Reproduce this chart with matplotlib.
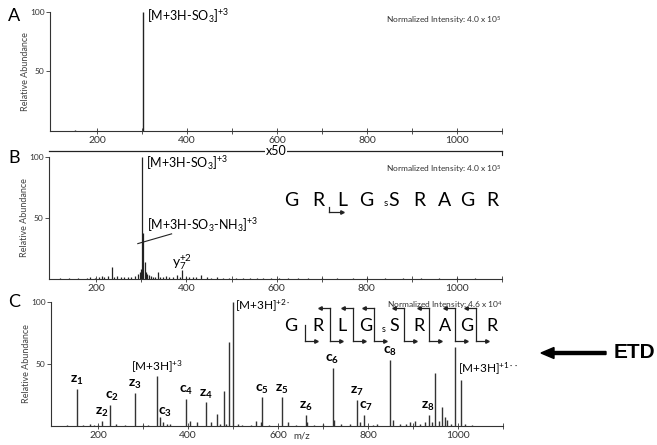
import matplotlib
matplotlib.use('Agg')
import matplotlib.pyplot as plt
from matplotlib.patches import FancyArrow

plt.rcParams['font.family'] = ['Lato', 'DejaVu Sans']
plt.rcParams['mathtext.fontset'] = 'custom'
plt.rcParams['mathtext.rm'] = 'Lato'
plt.rcParams['mathtext.it'] = 'Lato:italic'
plt.rcParams['mathtext.bf'] = 'Lato:bold'

W, H = 657, 445
INK = '#222222'

# A: precursor spectrum
a_mz = [150, 302]
a_int = [0.8, 100]

# B: CID spectrum
b_mz = [120, 140, 160, 180, 186, 196, 205, 212, 218, 226, 234, 240, 246, 255, 262,
        270, 278, 285, 292, 296, 299, 302, 304, 307, 310, 313, 317, 321, 326, 331,
        336, 342, 348, 355, 362, 370, 378, 386, 391, 398, 405, 414, 422, 433, 445,
        455, 468, 480, 495, 510, 525, 540, 556, 570, 588, 605, 625, 648, 670, 700,
        735, 770, 800, 840, 880, 920, 960, 1000, 1040]
b_int = [0.8, 1, 0.8, 1.2, 1.5, 1, 1.5, 2.5, 2, 2.5, 10, 2, 2.5, 1.5, 2,
         1.5, 2, 2.5, 4, 6, 8, 100, 38, 14, 6, 4, 3, 2.5, 2, 1.5,
         6, 2, 1.5, 2.5, 1.5, 2, 3, 1.5, 7, 2, 1.5, 1.5, 1.5, 3.5, 1.5,
         1.2, 1.5, 1, 1.2, 1, 1.2, 1, 1, 1.2, 1, 1, 1, 0.8, 0.8, 1,
         0.8, 0.8, 0.8, 0.8, 0.8, 0.8, 0.8, 0.8, 0.8]

# C: ETD spectrum, assigned fragments
frag_names = ['z1', 'z2', 'c2', 'z3', 'c3', 'c4', 'z4', 'c5', 'z5', 'z6',
              'c6', 'z7', 'c7', 'c8', 'z8']
frag_mz = [153, 209, 226, 282, 338, 395, 439, 565, 608, 662, 721, 775, 791, 849, 935]
frag_int = [30, 4, 17, 27, 7, 22, 19, 23, 23, 9, 47, 21, 9, 53, 9]

# C: precursor and charge-reduced species
prec_names = ['+3', '+2\\bullet', '+1\\bullet\\bullet']
prec_mz = [331, 500, 993]
prec_int = [40, 100, 64]

# C: unassigned peaks
c_mz = [130, 166, 181, 190, 200, 240, 260, 300, 310, 345, 352, 360, 405, 420, 450,
        463, 470, 480, 485, 491, 510, 520, 540, 551, 563, 580, 622, 640, 664, 680,
        700, 724, 740, 760, 781, 810, 820, 855, 870, 885, 894, 905, 916, 927, 942,
        949, 957, 964, 971, 976, 985, 1006, 1015, 1030]
c_int = [0.8, 1, 1.5, 1, 0.8, 1.5, 1, 1, 1.2, 3, 1.5, 1.5, 4, 3, 3,
         10, 2, 28, 2, 68, 2, 1, 1.2, 4, 3, 1, 3, 1, 3, 1,
         1.5, 5, 1.5, 1.5, 3, 1, 1.5, 5, 1.5, 2, 3, 4, 2, 3, 3,
         43, 4, 15, 7, 5, 2, 37, 2, 1]

peptide = ['G', 'R', 'L', 'G', 'S', 'R', 'A', 'G', 'R']
letter_x = [291, 318, 342, 366, 394, 419, 445, 467, 492]

fig = plt.figure(figsize=(W / 100, H / 100), dpi=100)


def spectrum_axes(left, top, right, bottom):
    ax = fig.add_axes([left / W, 1 - bottom / H, (right - left) / W, (bottom - top) / H])
    ax.set_xlim(95, 1100)
    ax.set_ylim(0, 100)
    for s in ('top', 'right'):
        ax.spines[s].set_visible(False)
    for s in ('left', 'bottom'):
        ax.spines[s].set_linewidth(0.8)
        ax.spines[s].set_color('#333333')
    ax.set_xticks(range(200, 1001, 200))
    ax.set_xticks(range(300, 1101, 200), minor=True)
    ax.set_yticks([50, 100])
    ax.tick_params(axis='x', which='both', direction='inout', length=4, width=0.6,
                   labelsize=7.5, pad=1.5, color='#333333', labelcolor='#333333')
    ax.tick_params(axis='y', direction='out', length=3, width=0.6, labelsize=6,
                   pad=1, color='#333333', labelcolor='#333333')
    ax.set_ylabel('Relative Abundance', fontsize=6.5, color='#444444')
    ax.yaxis.set_label_coords(-20 / (right - left), 0.5)
    return ax


def norm_text(ax, y, mant, exp):
    ax.text(1.0, y, 'Normalized Intensity: %s x 10$^{%s}$' % (mant, exp),
            transform=ax.transAxes, ha='right', va='center', fontsize=6, color='#333333')


# ---- A
ax_a = spectrum_axes(50, 12, 502, 131)
ax_a.vlines(a_mz, 0, a_int, color=INK, lw=1.0)
ax_a.text(310, 97, r'[M+3H-SO$_3$]$^{+3}$', fontsize=9, ha='left', va='center')
norm_text(ax_a, 0.93, '4.0', '5')

# ---- B
ax_b = spectrum_axes(49, 157, 502, 279)
ax_b.vlines(b_mz, 0, b_int, color=INK, lw=0.9)
ax_b.text(310, 95, r'[M+3H-SO$_3$]$^{+3}$', fontsize=9, ha='left', va='center')
ax_b.text(312, 44, r'[M+3H-SO$_3$-NH$_3$]$^{+3}$', fontsize=9, ha='left', va='center')
ax_b.plot([292, 367], [29, 37], color=INK, lw=0.8)
ax_b.text(391, 14, r'y$_7^{+2}$', fontsize=10, ha='center', va='center')
norm_text(ax_b, 0.90, '4.0', '5')
# x50 magnification line
ax_b.plot([95, 1100], [105, 105], color=INK, lw=0.9, clip_on=False)
ax_b.plot([1100, 1100], [105, 102], color=INK, lw=0.8, clip_on=False)
ax_b.text(599, 105, 'x50', fontsize=9, ha='center', va='center',
          bbox=dict(facecolor='white', edgecolor='none', pad=0.5), clip_on=False)

# ---- C
ax_c = spectrum_axes(51, 302, 503, 426)
ax_c.vlines(c_mz, 0, c_int, color='#333333', lw=1.0)
ax_c.vlines(frag_mz, 0, frag_int, color='#333333', lw=1.0)
ax_c.vlines(prec_mz, 0, prec_int, color='#333333', lw=1.0)
norm_text(ax_c, 0.976, '4.6', '4')

frag_shift = {'c2': (4, 0), 'c3': (10, -3), 'c7': (4, 0), 'z8': (-3, 0)}
for name, mz, h in zip(frag_names, frag_mz, frag_int):
    dx, dy = frag_shift.get(name, (0, 0))
    label = r'$\mathbf{%s}_{\mathbf{%s}}$' % (name[0], name[1:])
    ax_c.text(mz + dx, h + 1.5 + dy, label, fontsize=10, ha='center', va='bottom')

prec_pos = [(331, 41, 'center', 'bottom'), (504, 97, 'left', 'center'),
            (1001, 46, 'left', 'center')]
for name, (x, y, ha, va) in zip(prec_names, prec_pos):
    ax_c.text(x, y, r'[M+3H]$^{%s}$' % name, fontsize=8.5, ha=ha, va=va)

# ---- overlay in pixel units for panel letters, sequences and arrows
ov = fig.add_axes([0, 0, 1, 1])
ov.set_xlim(0, W)
ov.set_ylim(H, 0)
ov.axis('off')

for letter, (x, y) in zip('ABC', [(14, 16), (14, 158), (14, 302)]):
    ov.text(x, y, letter, fontsize=13, ha='center', va='center')

ov.text(302, 436, 'm/z', fontsize=7, ha='center', va='center', color='#333333')


def draw_sequence(yc, size, s_dx):
    for ch, x in zip(peptide, letter_x):
        ov.text(x, yc, ch, fontsize=size, ha='center', va='center')
    ov.text(letter_x[4] + s_dx, yc + 3, 's', fontsize=size * 0.5, ha='center', va='center')


def cleavage(x, top, bottom, x_prev, x_next, upper=True):
    kw = dict(color=INK, lw=0.9)
    ov.plot([x, x], [top if upper else (top + bottom) / 2, bottom], **kw)
    ov.plot([x, x_next], [bottom, bottom], **kw)
    ov.plot([x_next], [bottom], marker='>', ms=2.5, color=INK)
    if upper:
        ov.plot([x, x_prev], [top, top], **kw)
        ov.plot([x_prev], [top], marker='<', ms=2.5, color=INK)


# B sequence with a single y7 cleavage
draw_sequence(201, 14, -8)
cleavage(329, 201, 212, 318, 342, upper=False)

# C sequence with c/z cleavages between every residue
draw_sequence(326, 13, -10)
sites = [305, 330, 353, 374, 404, 429, 455, 476]
for i, x in enumerate(sites):
    cleavage(x, 308, 341, x - 10, x + 11, upper=(i > 0))

# ETD arrow
ov.add_patch(FancyArrow(606, 353, -65, 0, width=3, head_width=11, head_length=13,
                        length_includes_head=True, color='black'))
ov.text(634, 353, 'ETD', fontsize=15, fontweight='bold', family='Liberation Sans',
        ha='center', va='center')

fig.savefig('out.png', dpi=100)
